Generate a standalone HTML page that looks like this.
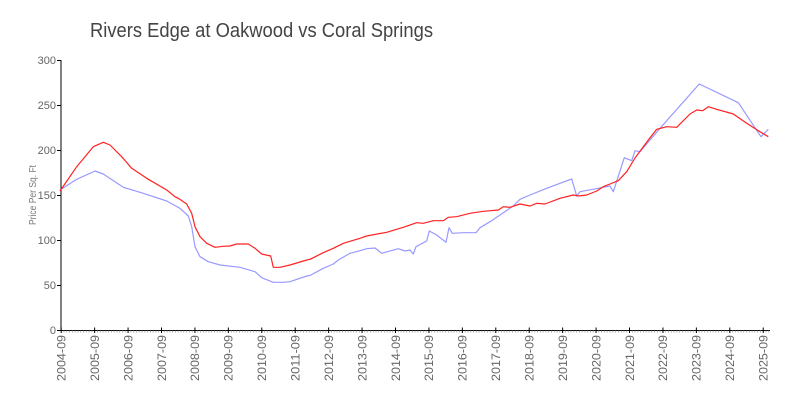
<!DOCTYPE html>
<html><head><meta charset="utf-8"><style>
html,body{margin:0;padding:0;background:#fff;}
svg{display:block;}
text{font-family:"Liberation Sans",sans-serif;}
</style></head><body>
<svg width="800" height="400" viewBox="0 0 800 400" xmlns="http://www.w3.org/2000/svg">
<rect width="800" height="400" fill="#fff"/>
<text x="90" y="37" font-size="20" fill="#444" textLength="343" lengthAdjust="spacingAndGlyphs">Rivers Edge at Oakwood vs Coral Springs</text>
<text transform="translate(36,195) rotate(-90)" font-size="10" fill="#777" text-anchor="middle" textLength="60" lengthAdjust="spacingAndGlyphs">Price Per Sq. Ft</text>
<g font-size="11" fill="#666" text-anchor="end">
<text x="56" y="64">300</text>
<text x="56" y="109">250</text>
<text x="56" y="154">200</text>
<text x="56" y="199">150</text>
<text x="56" y="244">100</text>
<text x="56" y="289">50</text>
<text x="56" y="334">0</text>
</g>
<g stroke="#000" stroke-width="1">
<line x1="61" y1="60" x2="61" y2="330.5"/>
<line x1="57" y1="60.5" x2="61" y2="60.5"/>
<line x1="57" y1="105.5" x2="61" y2="105.5"/>
<line x1="57" y1="150.5" x2="61" y2="150.5"/>
<line x1="57" y1="195.5" x2="61" y2="195.5"/>
<line x1="57" y1="240.5" x2="61" y2="240.5"/>
<line x1="57" y1="285.5" x2="61" y2="285.5"/>
<line x1="57" y1="330.5" x2="61" y2="330.5"/>
<line x1="61" y1="330.5" x2="770" y2="330.5"/>
</g>
<g id="minor" stroke="#999" stroke-width="0.8"></g>
<g id="major" stroke="#000" stroke-width="1"></g>
<g id="xl" font-size="12" fill="#666" text-anchor="end"></g>
<polyline fill="none" stroke="#9999ff" stroke-width="1.2" stroke-linejoin="round" points="60,190 76.7,179.3 95,171 103.3,174 123.3,187.3 143.3,193.3 166.7,201 180,208.3 188.3,216 191.7,226.7 195,246.7 200,256.7 208.3,261.7 220,265 240,267.3 255,271.7 261.7,277.7 273.3,282.3 283.3,282.3 290,281.7 306.7,276 310,275.5 323.3,268.3 333.3,264 338.3,260 350,253.3 360,250.7 366.7,248.7 375,248 381.7,253.3 398.3,248.7 405,251 410,250 413.3,254 416,246.7 426.7,241 429.3,231 436.7,235 446,242.3 449,227.7 452.3,233.3 463.3,232.7 476,232.7 480,227.7 490,221.7 503.3,212.7 513.3,206 520,199.3 530,195 546.7,188.3 560,183.3 571.7,179 576.7,196 580,191.7 603.3,187.3 610,186 613.3,191.7 624.3,157.7 631.7,160.7 635,150.7 640,151.7 660,128.3 699.3,84 738.3,102.7 761,136.7 768.3,129.3"/>
<polyline fill="none" stroke="#ff2222" stroke-width="1.2" stroke-linejoin="round" points="60,191 76.7,166.7 93.3,146.7 103.3,142.3 110,145 121.7,156.7 131.7,168.3 146.7,178.3 166.7,190 175,196.7 178.3,198.3 186.7,204 191.7,213.3 195,226.7 200,236.7 206.7,243.3 215,247.3 223.3,246.3 230,246 236.7,244 248.3,244 255,248.3 261.7,254 270.7,256 273.3,267.3 280,267.3 290,265 306.7,260 310,259.3 323.3,252.7 333.3,248.3 343.3,243.3 360,238.3 366.7,236 386.7,232.3 403.3,227.3 416.7,222.7 423.3,223.3 433.3,220.7 443.3,220.7 448.3,217.3 456.7,216.7 470,213.3 483.3,211.3 498.3,210 503.3,206.7 510,207.3 520,204 530,206 536.7,203.3 545,204 560,198.3 573.3,195 578.3,196 586.7,195 596.7,191 603.3,186.7 610,184 618.3,180.7 626.7,171.7 635,158 648.3,140 656.7,129.3 666.7,126.7 676.7,127.3 690,114 696.7,110 702.7,110.7 708.3,106.7 716.7,109.3 733.3,114 746.7,123.3 760,131.7 768.3,136.7"/>
<script>
(function(){
var ns="http://www.w3.org/2000/svg";
var minor=document.getElementById("minor"),major=document.getElementById("major"),xl=document.getElementById("xl");
var x0=61.2,step=33.43;
for(var m=0;m<=254;m++){var x=x0+m*step/12;if(x>770)break;var l=document.createElementNS(ns,"line");l.setAttribute("x1",x);l.setAttribute("x2",x);l.setAttribute("y1",330.5);l.setAttribute("y2",332.5);minor.appendChild(l);}
for(var i=0;i<22;i++){var x=x0+i*step;var l=document.createElementNS(ns,"line");l.setAttribute("x1",x);l.setAttribute("x2",x);l.setAttribute("y1",327.5);l.setAttribute("y2",333);major.appendChild(l);
var t=document.createElementNS(ns,"text");t.setAttribute("transform","translate("+(x+4.3)+",335) rotate(-90)");t.setAttribute("textLength","46");t.setAttribute("lengthAdjust","spacingAndGlyphs");t.textContent=(2004+i)+"-09";xl.appendChild(t);}
})();
</script>
</svg>
</body></html>
